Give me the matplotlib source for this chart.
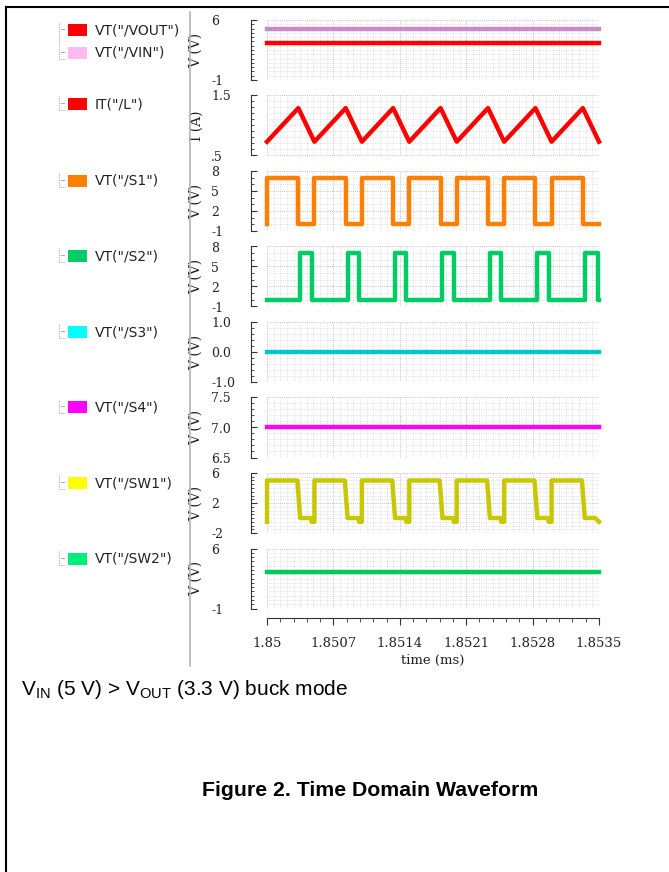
import matplotlib.pyplot as plt
from matplotlib.patches import Rectangle
from matplotlib.lines import Line2D
from matplotlib.ticker import MultipleLocator

# ---- data (time in ms) ----
time_range = [1.85, 1.8535]
vout = [3.3, 3.3]
vin = [5.0, 5.0]

il_t = [1.85, 1.85033, 1.8505, 1.85083, 1.851, 1.85133, 1.8515, 1.85183,
        1.852, 1.85233, 1.8525, 1.85283, 1.853, 1.85333, 1.8535]
il_v = [0.73, 1.29, 0.73, 1.29, 0.73, 1.29, 0.73, 1.29,
        0.73, 1.29, 0.73, 1.29, 0.73, 1.29, 0.73]

s1_t = [1.85, 1.850005, 1.85033, 1.8505, 1.85083, 1.851, 1.85133, 1.8515,
        1.85183, 1.852, 1.85233, 1.8525, 1.85283, 1.853, 1.85333, 1.8535]
s1_v = [0, 7, 0, 7, 0, 7, 0, 7, 0, 7, 0, 7, 0, 7, 0, 0]

s2_t = [1.85, 1.85035, 1.85047, 1.85085, 1.85097, 1.85135, 1.85147, 1.85185,
        1.85197, 1.85235, 1.85247, 1.85285, 1.85297, 1.85335, 1.85349, 1.8535]
s2_v = [0, 7, 0, 7, 0, 7, 0, 7, 0, 7, 0, 7, 0, 7, 0, 0]

s3 = [0.0, 0.0]
s4 = [7.0, 7.0]

sw1_t = [1.85, 1.85, 1.85032, 1.85035, 1.85046, 1.85047, 1.8505,
         1.8505, 1.85082, 1.85085, 1.85096, 1.85097, 1.851,
         1.851, 1.85132, 1.85135, 1.85146, 1.85147, 1.8515,
         1.8515, 1.85182, 1.85185, 1.85196, 1.85197, 1.852,
         1.852, 1.85232, 1.85235, 1.85246, 1.85247, 1.8525,
         1.8525, 1.85282, 1.85285, 1.85296, 1.85297, 1.853,
         1.853, 1.85332, 1.85335, 1.85346, 1.8535]
sw1_v = [-0.5, 5, 5, 0, 0, -0.5, -0.5,
         5, 5, 0, 0, -0.5, -0.5,
         5, 5, 0, 0, -0.5, -0.5,
         5, 5, 0, 0, -0.5, -0.5,
         5, 5, 0, 0, -0.5, -0.5,
         5, 5, 0, 0, -0.5, -0.5,
         5, 5, 0, 0, -0.5]
sw2 = [3.3, 3.3]

x_ticks = [1.85, 1.8507, 1.8514, 1.8521, 1.8528, 1.8535]
x_ticklabels = ['1.85', '1.8507', '1.8514', '1.8521', '1.8528', '1.8535']

panel_ylims = [(-1, 6), (0.5, 1.5), (-1, 8), (-1, 8), (-1, 1), (6.5, 7.5), (-2, 6), (-1, 6)]
panel_ticks = [[-1, 6], [0.5, 1.5], [-1, 2, 5, 8], [-1, 2, 5, 8],
               [-1, 0, 1], [6.5, 7.0, 7.5], [-2, 2, 6], [-1, 6]]
panel_ticklabels = [['-1', '6'], ['.5', '1.5'], ['-1', '2', '5', '8'], ['-1', '2', '5', '8'],
                    ['-1.0', '0.0', '1.0'], ['6.5', '7.0', '7.5'], ['-2', '2', '6'], ['-1', '6']]
panel_minor = [0.5, 0.1, 1, 1, 0.2, 0.1, 0.5, 0.5]
panel_ylabels = ['V (V)', 'I (A)', 'V (V)', 'V (V)', 'V (V)', 'V (V)', 'V (V)', 'V (V)']

panel_series = [
    [(time_range, vin, '#c98cc2', 'plot'), (time_range, vout, '#ff0000', 'plot')],
    [(il_t, il_v, '#ff0000', 'plot')],
    [(s1_t, s1_v, '#ff8000', 'step')],
    [(s2_t, s2_v, '#00cc66', 'step')],
    [(time_range, s3, '#00c8c8', 'plot')],
    [(time_range, s4, '#ff00ff', 'plot')],
    [(sw1_t, sw1_v, '#c8c800', 'plot')],
    [(time_range, sw2, '#00cc55', 'plot')],
]

legend_groups = [
    [('VT("/VOUT")', '#ff0000'), ('VT("/VIN")', '#ffbbee')],
    [('IT("/L")', '#ff0000')],
    [('VT("/S1")', '#ff8000')],
    [('VT("/S2")', '#00cc66')],
    [('VT("/S3")', '#00ffff')],
    [('VT("/S4")', '#ff00ff')],
    [('VT("/SW1")', '#ffff00')],
    [('VT("/SW2")', '#00ee77')],
]

# ---- layout helpers (pixels) ----
W, H = 669, 872
fig = plt.figure(figsize=(W / 100, H / 100), dpi=100)


def fx(x):
    return x / W


def fy(y):
    return 1 - y / H


# page frame and separator
fig.add_artist(Line2D([fx(6), 1], [fy(7), fy(7)], color='black', lw=1.5))
fig.add_artist(Line2D([fx(6.5), fx(6.5)], [fy(7), 0], color='black', lw=1.5))
fig.add_artist(Line2D([fx(190), fx(190)], [fy(12), fy(666)], color='#b4b4b4', lw=1.2))

x0, x1 = 267, 599
top0, step, ph = 20, 75.5, 60
serif = 'DejaVu Serif'

for i in range(8):
    top = top0 + step * i
    ax = fig.add_axes([fx(x0), fy(top + ph), (x1 - x0) / W, ph / H])
    ax.patch.set_visible(False)
    for t, v, c, kind in panel_series[i]:
        if kind == 'step':
            ax.step(t, v, where='post', color=c, lw=3.2, clip_on=False)
        else:
            ax.plot(t, v, color=c, lw=3.2, clip_on=False)
    ax.set_xlim(time_range)
    ax.set_ylim(panel_ylims[i])
    for s in ['top', 'right', 'bottom']:
        ax.spines[s].set_visible(False)
    ax.spines['left'].set_position(('outward', 11.5))
    ax.spines['left'].set_color('#333333')
    ax.spines['left'].set_linewidth(0.8)
    ax.set_yticks(panel_ticks[i], panel_ticklabels[i])
    ax.yaxis.set_minor_locator(MultipleLocator(panel_minor[i]))
    ax.tick_params(axis='y', which='major', direction='in', length=4, width=0.8,
                   pad=28.8, labelsize=9, color='#333333', labelcolor='#222222')
    ax.tick_params(axis='y', which='minor', direction='in', length=2.5, width=0.6,
                   color='#333333')
    for lab in ax.get_yticklabels():
        lab.set_ha('left')
        lab.set_family(serif)
    ax.xaxis.set_major_locator(MultipleLocator(0.0007, offset=1.85))
    ax.xaxis.set_minor_locator(MultipleLocator(0.00007, offset=1.85))
    ax.tick_params(axis='x', which='both', bottom=False, labelbottom=False)
    ax.grid(which='major', color='#b0b0b0', ls=(0, (1, 1.5)), lw=0.6)
    ax.grid(which='minor', color='#cfcfcf', ls=(0, (1, 1.5)), lw=0.5)
    ax.set_axisbelow(True)
    ax.set_ylabel(panel_ylabels[i], family=serif, size=10, color='#222222')
    ax.yaxis.set_label_coords(-0.192, 0.5)

    # legend entries for this panel
    group = legend_groups[i]
    ys = [top + 10 + 23 * k for k in range(len(group))]
    if i == 1:
        ys = [top + 8.5]
    fig.add_artist(Line2D([fx(59), fx(59)], [fy(ys[0] - 8), fy(ys[-1] + 6)],
                          color='#9a9a9a', lw=0.6, ls=(0, (1, 1))))
    fig.add_artist(Line2D([fx(59), fx(65)], [fy(ys[-1] + 6), fy(ys[-1] + 6)],
                          color='#9a9a9a', lw=0.6, ls=(0, (1, 1))))
    for (name, col), y in zip(group, ys):
        fig.add_artist(Line2D([fx(61), fx(64)], [fy(y - 1), fy(y - 1)],
                              color='#9a9a9a', lw=0.6))
        fig.add_artist(Rectangle((fx(68), fy(y + 6)), 19 / W, 12 / H,
                                 facecolor=col, edgecolor='none'))
        fig.text(fx(95), fy(y), name, va='center', ha='left', size=10,
                 family='DejaVu Sans', color='#222222')

# time axis ruler
axx = fig.add_axes([fx(x0), fy(618), (x1 - x0) / W, 1 / H])
axx.patch.set_visible(False)
axx.set_xlim(time_range)
axx.set_yticks([])
for s in ['top', 'right', 'left']:
    axx.spines[s].set_visible(False)
axx.spines['bottom'].set_color('#333333')
axx.spines['bottom'].set_linewidth(0.8)
axx.set_xticks(x_ticks, x_ticklabels)
axx.xaxis.set_minor_locator(MultipleLocator(0.00014, offset=1.85))
axx.tick_params(axis='x', which='major', direction='out', length=5, width=0.8,
                pad=8.5, labelsize=9.5, color='#333333', labelcolor='#222222')
axx.tick_params(axis='x', which='minor', direction='out', length=3, width=0.6,
                color='#333333')
for lab in axx.get_xticklabels():
    lab.set_family(serif)
axx.set_xlabel('time (ms)', family=serif, size=9.5, color='#222222', labelpad=3)

# captions
plt.rcParams['mathtext.fontset'] = 'custom'
plt.rcParams['mathtext.rm'] = 'Liberation Sans'
fig.text(fx(21), fy(695), r'V$_{\mathrm{IN}}$ (5 V) > V$_{\mathrm{OUT}}$ (3.3 V) buck mode',
         family='Liberation Sans', size=15, va='baseline', ha='left')
fig.text(fx(370), fy(796), 'Figure 2. Time Domain Waveform', family='Liberation Sans',
         size=15.3, weight='bold', va='baseline', ha='center')

fig.savefig('out.png', dpi=100)
